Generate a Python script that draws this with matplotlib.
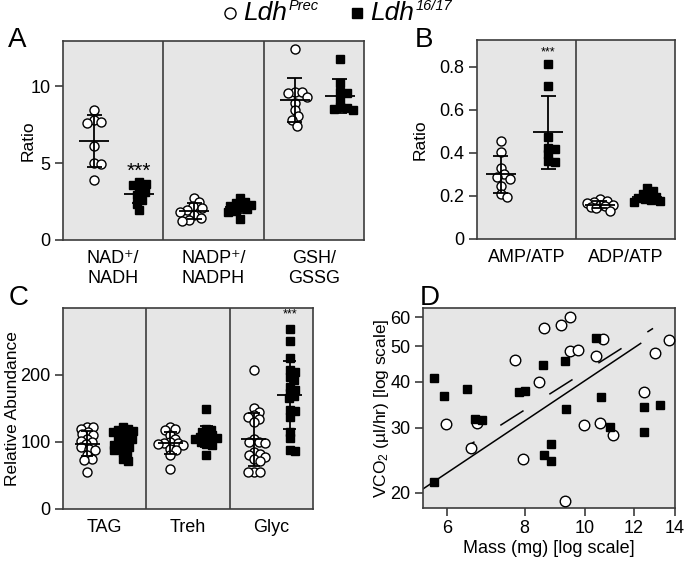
import numpy as np
import matplotlib
matplotlib.use("Agg")
import matplotlib.pyplot as plt
from matplotlib.lines import Line2D
from matplotlib.ticker import NullLocator

plt.rcParams['font.family'] = ['Liberation Sans', 'DejaVu Sans']
plt.rcParams['mathtext.fontset'] = 'custom'
plt.rcParams['mathtext.rm'] = 'Liberation Sans'
plt.rcParams['mathtext.it'] = 'Liberation Sans:italic'

# ---- panel A : redox ratios ----
a_labels = ['NAD\u207a/\nNADH', 'NADP\u207a/\nNADPH', 'GSH/\nGSSG']
a_prec = [[8.43, 7.8, 7.7, 7.6, 6.14, 5.0, 4.95, 3.92],
          [2.75, 2.45, 2.2, 2.05, 1.95, 1.85, 1.6, 1.45, 1.3, 1.25],
          [12.45, 9.65, 9.6, 9.55, 9.3, 8.9, 8.45, 8.05, 7.8, 7.45]]
a_ldh = [[3.75, 3.65, 3.55, 3.3, 3.1, 2.9, 2.6, 2.35, 1.95],
         [2.75, 2.5, 2.4, 2.3, 2.2, 2.15, 2.0, 1.9, 1.8, 1.35],
         [11.8, 10.2, 9.6, 9.55, 9.1, 8.65, 8.6, 8.5, 8.45]]

# ---- panel B : adenylate ratios ----
b_labels = ['AMP/ATP', 'ADP/ATP']
b_prec = [[0.455, 0.405, 0.33, 0.30, 0.29, 0.28, 0.245, 0.21, 0.195],
          [0.186, 0.178, 0.17, 0.165, 0.16, 0.158, 0.155, 0.15, 0.145, 0.13]]
b_ldh = [[0.814, 0.712, 0.476, 0.425, 0.417, 0.395, 0.364, 0.358],
         [0.235, 0.225, 0.21, 0.2, 0.195, 0.19, 0.185, 0.18, 0.175, 0.17]]

# ---- panel C : relative abundance ----
c_labels = ['TAG', 'Treh', 'Glyc']
c_prec = [[123, 122, 120, 115, 112, 110, 105, 102, 100, 97, 93, 90, 88, 80, 75, 73, 55],
          [123, 119, 118, 110, 105, 100, 99, 98, 97, 96, 90, 88, 80, 59],
          [208, 150, 145, 140, 138, 135, 130, 105, 100, 100, 98, 85, 82, 80, 78, 75, 72, 55, 55, 55]]
c_ldh = [[122, 120, 118, 117, 115, 112, 110, 108, 105, 103, 100, 98, 96, 94, 92, 90, 88, 85, 80, 75, 72],
         [149, 120, 118, 115, 112, 110, 108, 106, 105, 104, 102, 100, 97, 95, 80],
         [269, 250, 226, 208, 205, 197, 192, 182, 178, 173, 168, 165, 148, 146, 138, 115, 106, 88, 87]]

# ---- panel D : VCO2 vs mass ----
d_prec_mass = [5.96, 6.55, 6.70, 7.72, 7.96, 8.45, 8.60, 9.15, 9.46, 9.48,
               9.76, 9.31, 9.99, 10.43, 10.72, 10.58, 11.12, 12.46, 13.0, 13.69]
d_prec_vco2 = [30.7, 26.5, 31.0, 45.8, 24.7, 39.9, 56.1, 57.0, 60.0, 48.6,
               48.9, 19.0, 30.6, 47.1, 52.3, 31.0, 28.7, 37.5, 47.9, 52.0]
d_ldh_mass = [5.71, 5.71, 5.93, 6.45, 6.64, 6.82, 7.82, 8.0, 8.58, 9.31,
              9.34, 8.6, 8.84, 8.84, 10.45, 10.63, 10.98, 12.46, 12.46, 13.22]
d_ldh_vco2 = [21.4, 40.9, 36.6, 38.2, 31.7, 31.6, 37.6, 37.7, 44.4, 45.7,
              33.8, 25.3, 27.1, 24.4, 52.7, 36.5, 30.1, 34.1, 29.2, 34.6]
fit_ldh_mass = [5.48, 12.32]
fit_ldh_vco2 = [20.5, 50.9]
fit_prec_mass = [6.45, 12.9]
fit_prec_vco2 = [26.7, 55.9]

BG = '#e6e6e6'
EDGE = '#3c3c3c'

fig = plt.figure(figsize=(6.86, 5.61), dpi=100)


def swarm(ax, xc, vals, diam, spread, maxhw):
    # spread points sideways (in pixels) so they overlap only a little
    vals = np.asarray(vals, float)
    disp = ax.transData.transform(np.column_stack([np.full(len(vals), xc), vals]))
    cands = np.arange(-maxhw, maxhw + 0.5, 1.0)
    cands = cands[np.argsort(np.abs(cands) + 1e-3 * (cands < 0))]
    placed = []
    out = np.zeros(len(vals))
    for i in np.argsort(vals)[::-1]:
        px, py = disp[i]
        best, bestd = 0.0, -1
        for off in cands:
            if placed:
                d = min(np.hypot(px + off - qx, py - qy) for qx, qy in placed)
            else:
                d = 1e9
            if d >= diam * spread:
                best = off
                break
            if d > bestd + 0.5:
                best, bestd = off, d
        placed.append((px + best, py))
        out[i] = px + best
    back = ax.transData.inverted().transform(np.column_stack([out, disp[:, 1]]))
    return back[:, 0]


def dots(ax, xc, vals, filled, ms, spread, maxhw):
    vals = np.asarray(vals, float)
    xs = swarm(ax, xc, vals, ms / 0.72, spread, maxhw)
    ax.plot(xs, vals, ls='none', marker='s' if filled else 'o', ms=ms,
            mfc='black' if filled else 'white', mec='black', mew=1.0, zorder=3)
    m, s = vals.mean(), vals.std(ddof=1)
    kw = dict(color='black', lw=1.3, zorder=4, solid_capstyle='butt')
    ax.plot([xc - 0.15, xc + 0.15], [m, m], **kw)
    ax.plot([xc, xc], [m - s, m + s], **kw)
    for yy in (m - s, m + s):
        ax.plot([xc - 0.075, xc + 0.075], [yy, yy], **kw)


def cat_panel(rect, labels, prec, ldh, ylim, yticks, yticklabels, ylabel, labx, pos, spread, maxhw):
    ax = fig.add_axes(rect)
    ax.set_facecolor(BG)
    n = len(labels)
    ax.set_xlim(0, n)
    ax.set_ylim(*ylim)
    for sp in ax.spines.values():
        sp.set_color(EDGE)
        sp.set_linewidth(1.2)
    for i in range(1, n):
        ax.axvline(i, color=EDGE, lw=1.2)
    ax.set_xticks([i + 0.5 for i in range(n)])
    ax.set_xticklabels(labels, fontsize=13, linespacing=1.25)
    ax.tick_params(axis='x', length=0, pad=7)
    ax.set_yticks(yticks)
    ax.set_yticklabels(yticklabels, fontsize=13)
    ax.tick_params(axis='y', length=6, width=1.2, color=EDGE, pad=3)
    ax.set_ylabel(ylabel, fontsize=12.5)
    ax.yaxis.set_label_coords(labx, 0.5)
    for i in range(n):
        dots(ax, i + pos[0], prec[i], False, 6.5, spread, maxhw)
        dots(ax, i + pos[1], ldh[i], True, 6.0, spread, maxhw)
    return ax


axA = cat_panel([0.0918, 0.5722, 0.4388, 0.3547], a_labels, a_prec, a_ldh,
                (0, 12.95), [0, 5, 10], ['0', '5', '10'], 'Ratio', -0.092,
                (0.31, 0.76), 0.75, 15)
axA.text(0.76, 4.45, '***', ha='center', va='center', fontsize=15)

axB = cat_panel([0.6953, 0.5740, 0.2887, 0.3547], b_labels, b_prec, b_ldh,
                (0, 0.925), [0, 0.2, 0.4, 0.6, 0.8], ['0', '0.2', '0.4', '0.6', '0.8'],
                'Ratio', -0.25, (0.24, 0.72), 0.75, 13)
axB.text(0.72, 0.865, '***', ha='center', va='center', fontsize=9)

axC = cat_panel([0.0918, 0.0927, 0.3645, 0.3583], c_labels, c_prec, c_ldh,
                (0, 300), [0, 100, 200], ['0', '100', '200'], 'Relative Abundance', -0.17,
                (0.29, 0.72), 0.6, 13)
axC.text(2.72, 290, '***', ha='center', va='center', fontsize=9)

# ---- panel D ----
axD = fig.add_axes([0.6166, 0.0945, 0.3674, 0.3565])
axD.set_facecolor(BG)
axD.set_xscale('log')
axD.set_yscale('log')
axD.set_xlim(5.48, 14.0)
axD.set_ylim(18.2, 63.5)
for sp in axD.spines.values():
    sp.set_color(EDGE)
    sp.set_linewidth(1.2)
axD.plot(d_prec_mass, d_prec_vco2, ls='none', marker='o', ms=7.6, mfc='white',
         mec='black', mew=1.0, zorder=3)
axD.plot(d_ldh_mass, d_ldh_vco2, ls='none', marker='s', ms=5.4, mfc='black',
         mec='black', mew=1.0, zorder=3)
axD.plot(fit_ldh_mass, fit_ldh_vco2, color='black', lw=1.1, zorder=2)
axD.plot(fit_prec_mass, fit_prec_vco2, color='black', lw=1.1, zorder=2,
         linestyle=(12, (18, 20)))
axD.set_xticks([6, 8, 10, 12, 14])
axD.set_xticklabels(['6', '8', '10', '12', '14'], fontsize=13)
axD.set_yticks([20, 30, 40, 50, 60])
axD.set_yticklabels(['20', '30', '40', '50', '60'], fontsize=13)
axD.xaxis.set_minor_locator(NullLocator())
axD.yaxis.set_minor_locator(NullLocator())
axD.tick_params(length=6, width=1.2, color=EDGE, pad=3)
axD.set_xlabel('Mass (mg) [log scale]', fontsize=13, labelpad=2)
axD.set_ylabel('VCO$_2$ (\u00b5l/hr) [log scale]', fontsize=12.5)
axD.yaxis.set_label_coords(-0.128, 0.5)

# ---- panel letters ----
for lab, x, y in [('A', 0.012, 0.905), ('B', 0.605, 0.905), ('C', 0.012, 0.445), ('D', 0.612, 0.445)]:
    fig.text(x, y, lab, fontsize=20, va='bottom')

# ---- legend ----
fig.canvas.draw()
renderer = fig.canvas.get_renderer()
for mk, mx, tx, sup in [('o', 0.336, 0.354, 'Prec'), ('s', 0.521, 0.540, '16/17')]:
    fig.add_artist(Line2D([mx], [0.976], transform=fig.transFigure, marker=mk,
                          ms=8 if mk == 'o' else 7, mfc='white' if mk == 'o' else 'black',
                          mec='black', mew=1.0, ls='none'))
    t = fig.text(tx, 0.976, 'Ldh', fontsize=19, fontstyle='italic', va='center')
    bb = t.get_window_extent(renderer)
    fig.text(bb.x1 / fig.bbox.width + 0.002, 0.989, sup, fontsize=10.5,
             fontstyle='italic', va='center')

fig.savefig('out.png', dpi=100)
